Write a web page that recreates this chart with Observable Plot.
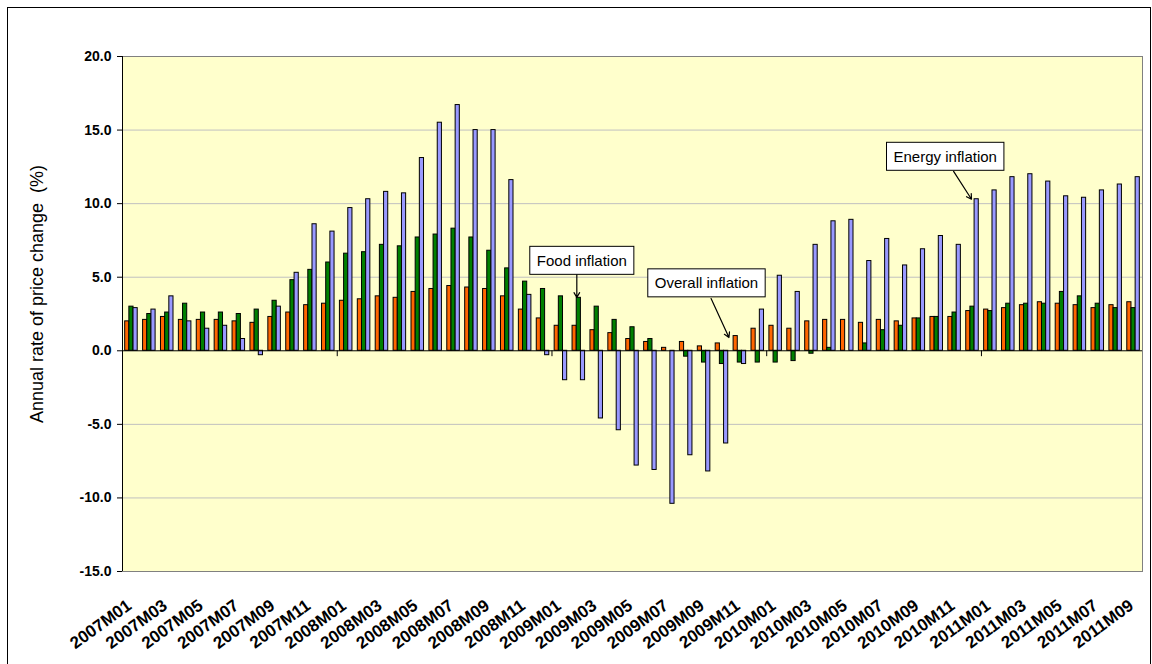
<!DOCTYPE html>
<html><head><meta charset="utf-8">
<script src="https://cdn.jsdelivr.net/npm/d3@7"></script>
<script src="https://cdn.jsdelivr.net/npm/@observablehq/plot@0.6"></script>
<style>
body{margin:0;background:#fff;font-family:"Liberation Sans",Arial,sans-serif;}
#wrap{position:relative;width:1152px;height:664px;overflow:hidden;}
#border{position:absolute;left:7px;top:7px;width:1142px;height:700px;border:1px solid #000;pointer-events:none;}
svg text{font-family:"Liberation Sans",Arial,sans-serif;}
</style></head><body><div id="wrap"><div id="chart"></div><div id="border"></div></div>
<script>
const categories = [
"2007M01","2007M02","2007M03","2007M04","2007M05","2007M06","2007M07","2007M08","2007M09","2007M10","2007M11","2007M12",
"2008M01","2008M02","2008M03","2008M04","2008M05","2008M06","2008M07","2008M08","2008M09","2008M10","2008M11","2008M12",
"2009M01","2009M02","2009M03","2009M04","2009M05","2009M06","2009M07","2009M08","2009M09","2009M10","2009M11","2009M12",
"2010M01","2010M02","2010M03","2010M04","2010M05","2010M06","2010M07","2010M08","2010M09","2010M10","2010M11","2010M12",
"2011M01","2011M02","2011M03","2011M04","2011M05","2011M06","2011M07","2011M08","2011M09"];
const overall = [2.0,2.1,2.3,2.1,2.1,2.1,2.0,1.9,2.3,2.6,3.1,3.2,
3.4,3.5,3.7,3.6,4.0,4.2,4.4,4.3,4.2,3.7,2.8,2.2,
1.7,1.7,1.4,1.2,0.8,0.6,0.2,0.6,0.3,0.5,1.0,1.5,
1.7,1.5,2.0,2.1,2.1,1.9,2.1,2.0,2.2,2.3,2.3,2.7,
2.8,2.9,3.1,3.3,3.2,3.1,2.9,3.1,3.3];
const food = [3.0,2.5,2.6,3.2,2.6,2.6,2.5,2.8,3.4,4.8,5.5,6.0,
6.6,6.7,7.2,7.1,7.7,7.9,8.3,7.7,6.8,5.6,4.7,4.2,
3.7,3.6,3.0,2.1,1.6,0.8,0.0,-0.4,-0.8,-0.9,-0.8,-0.8,
-0.8,-0.7,-0.2,0.2,0.0,0.5,1.4,1.7,2.2,2.3,2.6,3.0,
2.7,3.2,3.2,3.2,4.0,3.7,3.2,2.9,2.9];
const energy = [2.9,2.8,3.7,2.0,1.5,1.7,0.8,-0.3,3.0,5.3,8.6,8.1,
9.7,10.3,10.8,10.7,13.1,15.5,16.7,15.0,15.0,11.6,3.8,-0.3,
-2.0,-2.0,-4.6,-5.4,-7.8,-8.1,-10.4,-7.1,-8.2,-6.3,-0.9,2.8,
5.1,4.0,7.2,8.8,8.9,6.1,7.6,5.8,6.9,7.8,7.2,10.3,
10.9,11.8,12.0,11.5,10.5,10.4,10.9,11.3,11.8];
const yTicks = [-15,-10,-5,0,5,10,15,20];
const gridValues = [-10,-5,5,10,15];
const labelCats = categories.filter((d,i)=>i%2===0);
const yearStarts = ["2008M01","2009M01","2010M01","2011M01"];
const yTitle = "Annual rate of price change\u00a0 (%)";
const notes = [
  {label:"Food inflation", cat:"2009M02", y:6.1, dx:3, ax1:"2009M02", ax2:"2009M02", ay1:5.19, ay2:3.62, adx:-2},
  {label:"Overall inflation", cat:"2009M09", y:4.57, dx:2.4, ax1:"2009M09", ax2:"2009M10", ay1:3.55, ay2:0.9, adx:7},
  {label:"Energy inflation", cat:"2010M10", y:13.17, dx:8.5, ax1:"2010M11", ax2:"2010M12", ay1:12.19, ay2:10.3, adx:-1}
];

const W=1152,H=664,mL=122,mR=10,mT=56,mB=93;
const padIn=0.3,padOut=0.15;
const step=(W-mL-mR)/(categories.length-padIn+2*padOut);
const bw=step*(1-padIn), w=bw/3;
const rows = arr => arr.map((v,i)=>({month:categories[i], value:v}));
const series = [
  {data:overall, fill:"#FF6600", l:0, r:2*w},
  {data:food, fill:"#008000", l:w, r:w},
  {data:energy, fill:"#9999FF", l:2*w, r:0}
];

const plot = Plot.plot({
  width:W, height:H, marginLeft:mL, marginRight:mR, marginTop:mT, marginBottom:mB,
  style:{fontFamily:"'Liberation Sans', Arial, sans-serif", background:"transparent", color:"#000"},
  x:{type:"band", domain:categories, paddingInner:padIn, paddingOuter:padOut, align:0.5, axis:null},
  y:{domain:[-15,20], axis:null},
  marks:[
    Plot.frame({fill:"#FFFFCC", stroke:"#808080"}),
    Plot.ruleY(gridValues, {stroke:"#C0C0C0", strokeWidth:1}),
    ...series.map(s => Plot.barY(rows(s.data), {x:"month", y:"value", fill:s.fill, stroke:"#000", strokeWidth:1, insetLeft:s.l, insetRight:s.r})),
    Plot.ruleY([0], {stroke:"#000"}),
    Plot.ruleX(yearStarts, {y1:0, y2:-0.4, dx:-step/2, stroke:"#000"}),
    Plot.ruleX([categories[0]], {y1:-15, y2:20, dx:-step/2, stroke:"#000"}),
    Plot.axisY({ticks:yTicks, tickFormat:d=>d.toFixed(1), tickSize:5, tickPadding:6, fontSize:14, fontWeight:"bold", label:null}),
    Plot.axisX({ticks:labelCats, tickRotate:-36, tickSize:0, tickPadding:32, dx:-2, fontSize:17, fontWeight:"bold", label:null}),
    Plot.text([yTitle], {text:d=>d, frameAnchor:"left", dx:-85, dy:-20, rotate:-90, fontSize:18, textAnchor:"middle", fill:"#000"}),
    ...notes.flatMap(n => [
      Plot.arrow([n], {x1:"ax1", x2:"ax2", y1:"ay1", y2:"ay2", dx:n.adx, stroke:"#000", strokeWidth:1.2, headLength:7}),
      Plot.text([n], {x:"cat", y:"y", text:"label", dx:n.dx, fontSize:15, fill:"#000"})
    ])
  ]
});
document.getElementById("chart").appendChild(plot);

// draw white boxes behind annotation labels
const labels = new Set(notes.map(n=>n.label));
plot.querySelectorAll("text").forEach(t => {
  if (!labels.has(t.textContent)) return;
  const b = t.getBBox();
  const padX = 7, h = 28;
  const r = document.createElementNS("http://www.w3.org/2000/svg","rect");
  r.setAttribute("x", b.x - padX);
  r.setAttribute("y", b.y + b.height/2 - h/2);
  r.setAttribute("width", b.width + 2*padX);
  r.setAttribute("height", h);
  r.setAttribute("fill", "#fff");
  r.setAttribute("stroke", "#000");
  r.setAttribute("stroke-width", "1");
  if (t.getAttribute("transform")) r.setAttribute("transform", t.getAttribute("transform"));
  t.parentNode.insertBefore(r, t);
});
</script></body></html>
